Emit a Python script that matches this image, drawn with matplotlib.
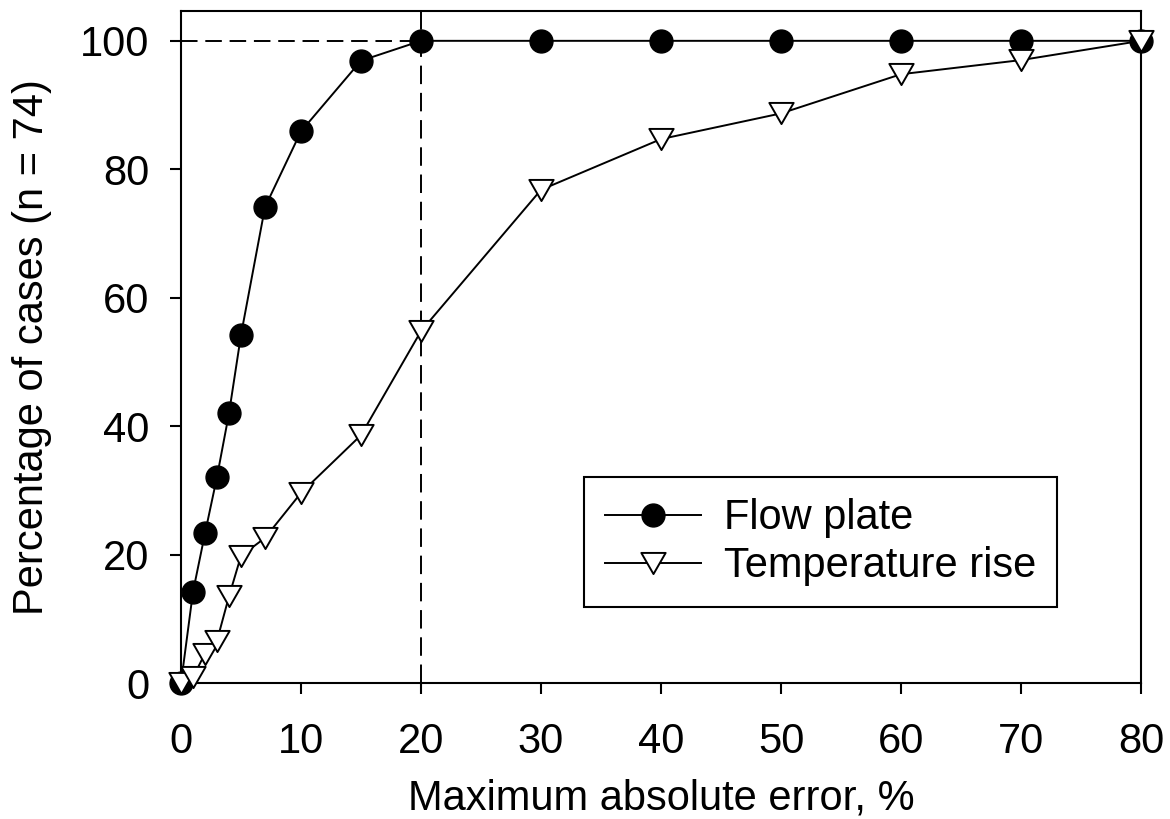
import numpy as np
import matplotlib.pyplot as plt
import matplotlib
from matplotlib.path import Path

matplotlib.rc("font", family=["Liberation Sans", "DejaVu Sans"], size=30)

# values
error_pct = [0, 1, 2, 3, 4, 5, 7, 10, 15, 20, 30, 40, 50, 60, 70, 80]
flow_plate = [0, 14.2, 23.3, 32.1, 42.0, 54.2, 74.1, 85.9, 96.9, 100, 100, 100, 100, 100, 100, 100]
temp_rise = [0, 0.9, 4.6, 6.6, 13.5, 19.8, 22.6, 29.6, 38.6, 54.8, 76.8, 84.7, 88.7, 94.8, 97.0, 100]

# slightly flattened down-pointing triangle, like the original
tri = Path([(-1, 0.87), (1, 0.87), (0, -0.87), (-1, 0.87)],
           [Path.MOVETO, Path.LINETO, Path.LINETO, Path.CLOSEPOLY])

fig = plt.figure(figsize=(11.7, 8.19), dpi=100)
ax = fig.add_axes([0.1547, 0.166, 0.8205, 0.821])

# reference lines at 20 % error / 100 % of cases
ax.plot([0, 20], [100, 100], color="black", lw=1.4, dashes=(8.5, 4), zorder=1)
ax.axvline(20, color="black", lw=1.4, dashes=(9.5, 4.5), zorder=1)

ax.plot(error_pct, flow_plate, color="black", lw=1.4, marker="o", ms=16.5,
        mfc="black", mec="black", label="Flow plate", zorder=3, clip_on=False)
ax.plot(error_pct, temp_rise, color="black", lw=1.4, marker=tri, ms=17.5,
        mfc="white", mec="black", mew=1.4, label="Temperature rise", zorder=3, clip_on=False)

ax.set_xlim(0, 80)
ax.set_ylim(0, 104.7)
ax.set_xticks(np.arange(0, 81, 10))
ax.set_yticks(np.arange(0, 101, 20))
ax.tick_params(axis="both", direction="out", length=8, width=1.5)
ax.tick_params(axis="x", pad=20)
ax.tick_params(axis="y", pad=15)
for s in ax.spines.values():
    s.set_linewidth(1.5)

ax.set_xlabel("Maximum absolute error, %", labelpad=12)
ax.set_ylabel("Percentage of cases (n = 74)", labelpad=20)

leg = ax.legend(loc="upper left", bbox_to_anchor=(0.42, 0.306), fancybox=False,
                edgecolor="black", framealpha=1, handlelength=2.3, handletextpad=0.55,
                borderpad=0.5, labelspacing=0.2, borderaxespad=0)
leg.get_frame().set_linewidth(1.5)

plt.savefig("out.png", dpi=100)
